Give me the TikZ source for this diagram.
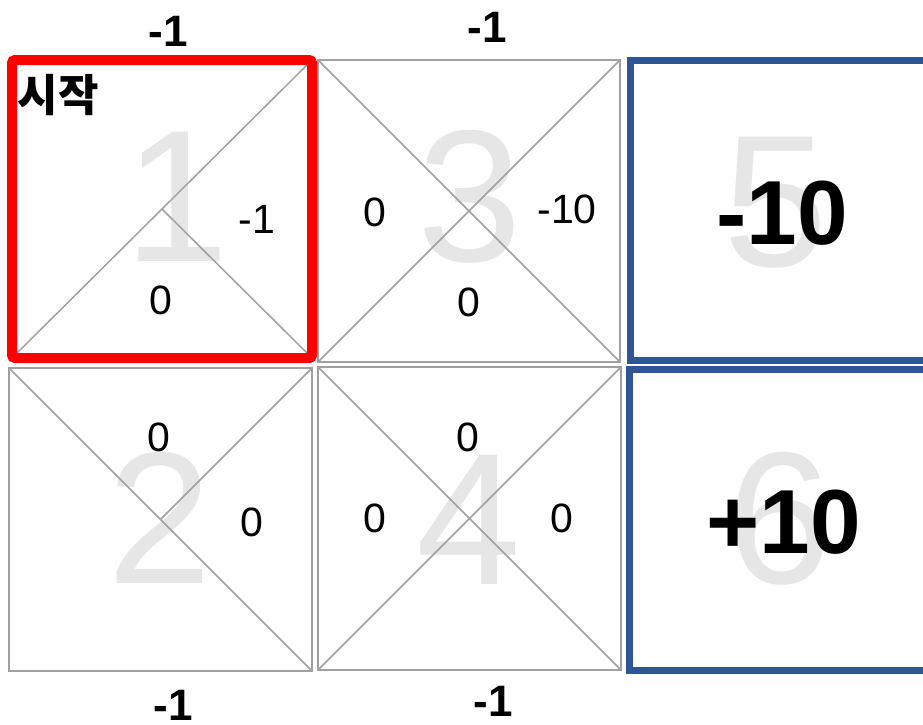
\documentclass[tikz,border=0pt]{standalone}
\usepackage{fontspec}
\setmainfont{Liberation Sans}
\newfontfamily\krfont{Noto Sans CJK KR}
\definecolor{linegray}{RGB}{160,160,160}
\definecolor{biggray}{RGB}{230,230,230}
\definecolor{goalblue}{RGB}{47,85,151}
\definecolor{startred}{RGB}{255,0,0}
\begin{document}
\begin{tikzpicture}[x=1pt,y=-1pt,
  bigdigit/.style={text=biggray, font=\fontsize{188}{188}\selectfont, inner sep=0pt},
  val/.style={font=\fontsize{41}{41}\selectfont, inner sep=0pt},
  edgeval/.style={font=\bfseries\fontsize{44}{44}\selectfont, inner sep=0pt},
  bigval/.style={font=\bfseries\fontsize{91}{91}\selectfont, inner sep=0pt},
  cellbox/.style={draw=linegray, line width=1.5pt, inner sep=0pt, outer sep=0pt},
  cellline/.style={draw=linegray, line width=1.5pt},
  goalbox/.style={draw=goalblue, line width=7pt, inner sep=0pt, outer sep=0pt},
  startbox/.style={draw=startred, line width=10pt, rounded corners=3pt},
]
\useasboundingbox (0,0) rectangle (923,724);
\fill[white] (0,0) rectangle (923,724);

% big faint state numbers
\node[bigdigit] (n1) at (177,197) {1};
\node[bigdigit] (n3) at (470,197) {3};
\node[bigdigit] (n5) at (776,203) {5};
\node[bigdigit] (n2) at (160,518) {2};
\node[bigdigit] (n4) at (469,520) {4};
\node[bigdigit] (n6) at (780,519) {6};

% cells
\node[cellbox, minimum width=300pt, minimum height=298pt] (c1) at (162,209) {};
\node[cellbox, minimum width=302pt, minimum height=302pt] (c3) at (469,211) {};
\node[cellbox, minimum width=303pt, minimum height=303pt] (c2) at (160.5,519.5) {};
\node[cellbox, minimum width=303pt, minimum height=303pt] (c4) at (469.5,518.5) {};

% diagonals
\draw[cellline] (c1.south west) -- (c1.north east);
\draw[cellline] (c1.center) -- (c1.south east);
\draw[cellline] (c3.south west) -- (c3.north east);
\draw[cellline] (c3.north west) -- (c3.south east);
\draw[cellline] (c2.north west) -- (c2.south east);
\draw[cellline] (c2.center) -- (c2.north east);
\draw[cellline] (c4.south west) -- (c4.north east);
\draw[cellline] (c4.north west) -- (c4.south east);

% start box
\draw[startbox] (c1.south west) rectangle (c1.north east);

% goal boxes
\node[goalbox, minimum width=310pt, minimum height=300pt] (g5) at (785,210) {};
\node[goalbox, minimum width=311pt, minimum height=301pt] (g6) at (784.5,519.5) {};

% start label
\node[font=\krfont\bfseries\fontsize{44}{44}\selectfont, inner sep=0pt] (start) at (58,95) {시작};

% values in cells
\node[val] (v1r) at (257,219) {-1};
\node[val] (v1b) at (161,300) {0};
\node[val] (v3l) at (375,212) {0};
\node[val] (v3r) at (567,209) {-10};
\node[val] (v3b) at (469,302) {0};
\node[val] (v2t) at (159,437) {0};
\node[val] (v2r) at (252,522) {0};
\node[val] (v4t) at (468,437) {0};
\node[val] (v4l) at (375,518) {0};
\node[val] (v4r) at (562,518) {0};

% edge rewards
\node[edgeval] (e1t) at (168,31) {-1};
\node[edgeval] (e3t) at (487,27) {-1};
\node[edgeval] (e2b) at (173,705) {-1};
\node[edgeval] (e4b) at (493,701) {-1};

% terminal rewards
\node[bigval] (r5) at (782,213) {-10};
\node[bigval] (r6) at (784,522) {+10};
\end{tikzpicture}
\end{document}
